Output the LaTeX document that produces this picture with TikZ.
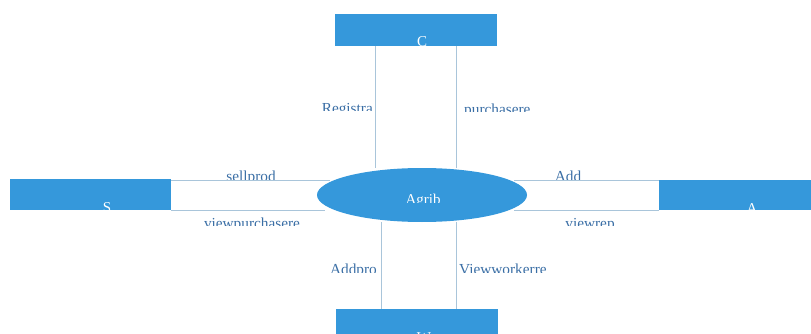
\documentclass[tikz,border=0pt]{standalone}
\usepackage{fontspec}
\setmainfont{Liberation Serif}
\usetikzlibrary{shapes.geometric}
\definecolor{boxblue}{HTML}{3598DB}
\definecolor{flowline}{HTML}{A9C5DA}
\definecolor{lbltext}{HTML}{3A6EA5}
\begin{document}
\begin{tikzpicture}[x=1pt,y=-1pt,
  entity/.style={fill=boxblue, draw=none, minimum width=162pt, minimum height=32pt, inner sep=0},
  proc/.style={ellipse, fill=boxblue, draw=none, minimum width=210pt, minimum height=54pt, inner sep=0},
  flow/.style={draw=flowline, line width=1pt},
  lbl/.style={text=lbltext, font=\fontsize{15.3}{15}\selectfont, inner sep=0},
  ttl/.style={text=white, font=\fontsize{15}{15}\selectfont, inner sep=0}]
\useasboundingbox (0,0) rectangle (811,334);

% external entities and the central process
\node[entity] (C) at (416,30) {};
\node[entity, minimum width=161pt, minimum height=31pt] (S) at (90.5,194.5) {};
\node[entity, minimum width=152pt, minimum height=30pt] (A) at (735,195) {};
\node[entity, minimum height=30pt] (W) at (416.5,324) {};
\node[proc] (P) at (422,195) {};

% reference points for the flows
\coordinate (c1) at (375,0);
\coordinate (c2) at (456,0);
\coordinate (w1) at (381,0);
\coordinate (w2) at (456,0);
\coordinate (lt) at (330,180);
\coordinate (lb) at (325,210);
\coordinate (rt) at (514,180);
\coordinate (rb) at (514,210);

% data flows
\draw[flow] (C.south -| c1) -- (P.north -| c1);
\draw[flow] (C.south -| c2) -- (P.north -| c2);
\draw[flow] (P.south -| w1) -- (W.north -| w1);
\draw[flow] (P.south -| w2) -- (W.north -| w2);
\draw[flow] (S.east |- lt) -- (lt);
\draw[flow] (S.east |- lb) -- (lb);
\draw[flow] (rt) -- (A.west |- rt);
\draw[flow] (rb) -- (A.west |- rb);

% flow labels, cut off at the bottom of their text frames
\begin{scope}\clip (0,0) rectangle (811,111);
  \node[lbl, anchor=base east] (tReg) at (373,114) {Registra};\end{scope}
\begin{scope}\clip (0,0) rectangle (811,112);
  \node[lbl, anchor=base west] (tPur) at (464,114.5) {purchasere};\end{scope}
\begin{scope}\clip (0,0) rectangle (811,179.5);
  \node[lbl, anchor=base] (tSell) at (251,182) {sellprod};
  \node[lbl, anchor=base] (tAdd) at (568,182) {Add};\end{scope}
\begin{scope}\clip (0,0) rectangle (811,225);
  \node[lbl, anchor=base] (tVp) at (252,228) {viewpurchasere};
  \node[lbl, anchor=base] (tVr) at (590,228) {viewrep};\end{scope}
\begin{scope}\clip (0,0) rectangle (811,272);
  \node[lbl, anchor=base east] (tAp) at (377,274) {Addpro};
  \node[lbl, anchor=base west] (tVw) at (459,274) {Viewworkerre};\end{scope}

% entity and process names
\begin{scope}\clip (0,0) rectangle (811,46);
  \node[ttl, anchor=base] (nC) at (422,47) {C};\end{scope}
\begin{scope}\clip (0,0) rectangle (811,210);
  \node[ttl, anchor=base] (nS) at (107,212) {S};
  \node[ttl, anchor=base] (nA) at (752,213) {A};\end{scope}
\begin{scope}\clip (0,0) rectangle (811,202);
  \node[ttl, anchor=base] (nP) at (423,204) {Agrib};\end{scope}
\node[ttl, anchor=base] (nW) at (424,342) {W};
\end{tikzpicture}
\end{document}
